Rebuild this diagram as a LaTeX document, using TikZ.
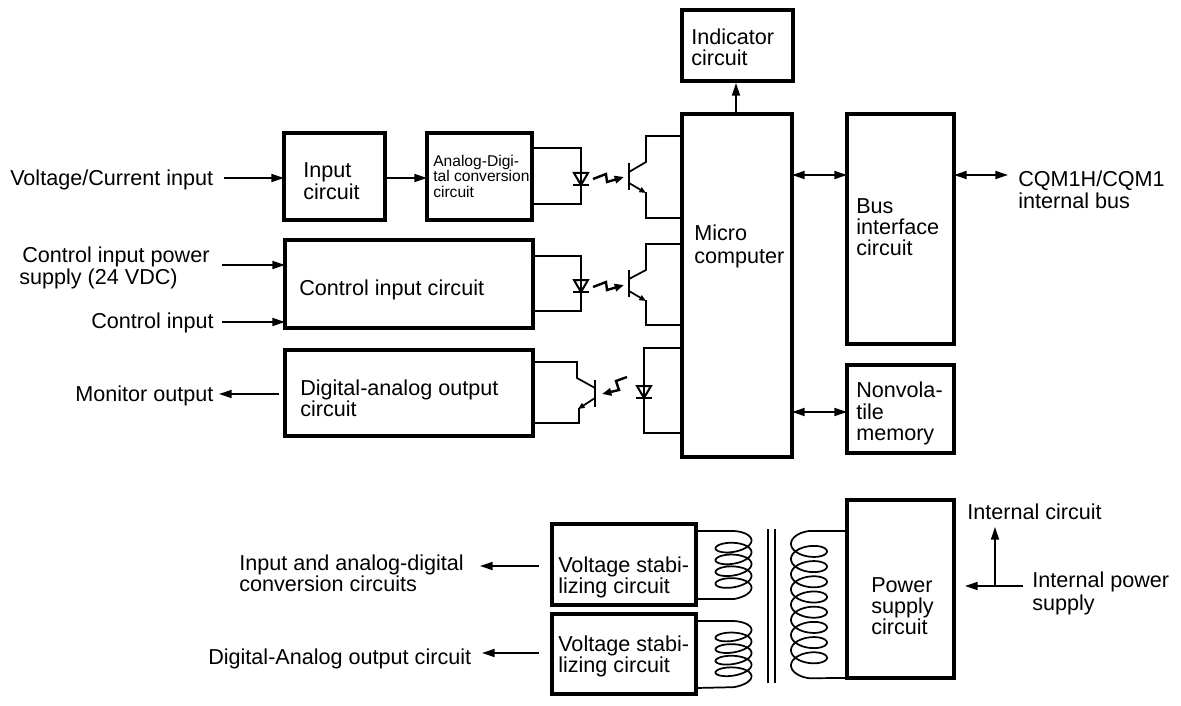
\documentclass[tikz,border=0pt]{standalone}
\usepackage{fontspec}
\setmainfont{Liberation Sans}
\usetikzlibrary{arrows.meta}
\tikzset{
  x=0.75pt,y=-0.75pt,
  blockbox/.style={draw,line width=2.5pt},
  wire/.style={line width=1.3pt,line join=miter},
  conn/.style={line width=1.3pt,-{Triangle[length=9.5pt,width=6pt]}},
  biconn/.style={line width=1.3pt,{Triangle[length=9.5pt,width=6pt]}-{Triangle[length=9.5pt,width=6pt]}},
  lbl/.style={font=\fontsize{16.2}{17}\selectfont,inner sep=0pt,align=left,anchor=west,text height=11.5pt,text depth=3pt,yshift=-1.2pt},
  tiny/.style={font=\fontsize{11.7}{13}\selectfont,inner sep=0pt,align=left,anchor=west,text height=8.5pt,text depth=2.5pt,yshift=-0.7pt},
  coilline/.style={line width=1.3pt},
}
\newcommand{\bx}[5]{\draw[blockbox] (#2,#3) rectangle (#4,#5); \coordinate (#1) at (#2,#3);}
\newcommand{\ledd}[2]{% x, y of top bar
  \draw[line width=1.5pt] (#1-7,#2) -- (#1+7,#2) -- (#1,#2+12) -- cycle;
  \draw[line width=1.7pt] (#1-8,#2+12) -- (#1+8,#2+12);}
\tikzset{bolt/.style={line width=1.8pt,-{Triangle[length=7pt,width=5.5pt]}}}
\newcommand{\boltR}[2]{% start x,y
  \draw[bolt] (#1,#2) -- (#1+13,#2-5) -- (#1+14,#2+3) -- (#1+31,#2-2);}
\begin{document}
\begin{tikzpicture}
\useasboundingbox (0,0) rectangle (1181,706);
% blocks
\bx{ind}{682}{10}{793}{81}
\bx{mic}{682}{114}{792}{457}
\bx{bus}{847}{114}{954}{344}
\bx{nvm}{847}{365}{954}{453}
\bx{inp}{284}{133}{385}{220}
\bx{adc}{427}{133}{532}{220}
\bx{cic}{285}{240}{533}{328}
\bx{dac}{285}{350}{533}{436}
\bx{vs1}{552}{524}{696}{605}
\bx{vs2}{552}{614}{696}{694}
\bx{psc}{847}{500}{954}{678}
% block text
\node[lbl] (t1) at (691,37) {Indicator};
\node[lbl] (t2) at (691,58) {circuit};
\node[lbl] (t3) at (303,170) {Input};
\node[lbl] (t4) at (303,192) {circuit};
\node[tiny] (t5) at (433,162) {Analog-Digi-};
\node[tiny] (t6) at (433,177) {tal conversion};
\node[tiny] (t7) at (433,193) {circuit};
\node[lbl] (t8) at (299,288) {Control input circuit};
\node[lbl] (t9) at (300,388) {Digital-analog output};
\node[lbl] (t10) at (300,409) {circuit};
\node[lbl] (t11) at (694,233) {Micro};
\node[lbl] (t12) at (694,256) {computer};
\node[lbl] (t13) at (856,206) {Bus};
\node[lbl] (t14) at (856,227) {interface};
\node[lbl] (t15) at (856,248) {circuit};
\node[lbl] (t16) at (856,390) {Nonvola-};
\node[lbl] (t17) at (856,412) {tile};
\node[lbl] (t18) at (856,433) {memory};
\node[lbl] (t19) at (558,565) {Voltage stabi-};
\node[lbl] (t20) at (558,586) {lizing circuit};
\node[lbl] (t21) at (558,644) {Voltage stabi-};
\node[lbl] (t22) at (558,665) {lizing circuit};
\node[lbl] (t23) at (871,585) {Power};
\node[lbl] (t24) at (871,606) {supply};
\node[lbl] (t25) at (871,627) {circuit};
% outer labels
\node[lbl] (l1) at (10,178) {Voltage/Current input};
\node[lbl] (l2) at (22,255) {Control input power};
\node[lbl] (l3) at (19,277) {supply (24 VDC)};
\node[lbl] (l4) at (91,321) {Control input};
\node[lbl] (l5) at (75,394) {Monitor output};
\node[lbl] (l6) at (1018,179) {CQM1H/CQM1};
\node[lbl] (l7) at (1018,201) {internal bus};
\node[lbl] (l8) at (239,563) {Input and analog-digital};
\node[lbl] (l9) at (239,584) {conversion circuits};
\node[lbl] (l10) at (208,657) {Digital-Analog output circuit};
\node[lbl] (l11) at (967,512) {Internal circuit};
\node[lbl] (l12) at (1032,580) {Internal power};
\node[lbl] (l13) at (1032,603) {supply};
% connectors
\coordinate (a1) at (224,178); \coordinate (a2) at (284,178);
\draw[conn] (a1) -- (a2);
\coordinate (b1) at (385,178); \coordinate (b2) at (427,178);
\draw[conn] (b1) -- (b2);
\coordinate (c1) at (222,265); \coordinate (c2) at (285,265);
\draw[conn] (c1) -- (c2);
\coordinate (d1) at (222,322); \coordinate (d2) at (285,322);
\draw[conn] (d1) -- (d2);
\coordinate (e1) at (279,394); \coordinate (e2) at (219,394);
\draw[conn] (e1) -- (e2);
\coordinate (f1) at (736,114); \coordinate (f2) at (736,83);
\draw[conn] (f1) -- (f2);
\coordinate (g1) at (792,175); \coordinate (g2) at (847,175);
\draw[biconn] (g1) -- (g2);
\coordinate (h1) at (954,175); \coordinate (h2) at (1008,175);
\draw[biconn] (h1) -- (h2);
\coordinate (i1) at (792,412); \coordinate (i2) at (847,412);
\draw[biconn] (i1) -- (i2);
\coordinate (j1) at (539,566); \coordinate (j2) at (480,566);
\draw[conn] (j1) -- (j2);
\coordinate (k1) at (539,653); \coordinate (k2) at (482,653);
\draw[conn] (k1) -- (k2);
\coordinate (m1) at (1023,586); \coordinate (m2) at (965,586); \coordinate (m3) at (995,586); \coordinate (m4) at (995,527);
\draw[conn] (m1) -- (m2);
\draw[conn] (m3) -- (m4);
% opto 1
\draw[wire] (532,148) -- (581,148) -- (581,204) -- (532,204);
\ledd{581}{173}
\boltR{593}{179}
\draw[wire] (682,136) -- (646,136) -- (646,162) -- (629,172);
\draw[wire] (682,218) -- (646,218) -- (646,192);
\draw[wire,-{Triangle[length=5pt,width=4pt]}] (629,183) -- (646,193);
\draw[line width=1.7pt] (629,163) -- (629,190);
% opto 2
\draw[wire] (533,256) -- (581,256) -- (581,311) -- (533,311);
\ledd{581}{280}
\boltR{593}{287}
\draw[wire] (682,244) -- (646,244) -- (646,270) -- (629,279);
\draw[wire] (682,325) -- (646,325) -- (646,300);
\draw[wire,-{Triangle[length=5pt,width=4pt]}] (629,291) -- (646,301);
\draw[line width=1.7pt] (629,270) -- (629,297);
% opto 3
\draw[wire] (533,362) -- (577,362) -- (577,378) -- (595,388);
\draw[wire] (533,423) -- (579,423) -- (579,408);
\draw[wire,-{Triangle[length=5pt,width=4pt]}] (595,398) -- (578,409);
\draw[line width=1.7pt] (595,380) -- (595,407);
\draw[bolt] (627,377) -- (616,381) -- (619,390) -- (602,394);
\draw[wire] (682,348) -- (644,348) -- (644,433) -- (682,433);
\ledd{644}{386}
% coils
\draw[coilline] (696,531) -- (733.5,531) -- plot[smooth,domain=0:1620,samples=200] ({733.5+18*sin(\x)},{538.5+\x/360*11.8-7.5*cos(\x)-sin(\x)}) -- (696,599);
\draw[coilline] (696,621) -- (733.5,621) -- plot[smooth,domain=0:1620,samples=200] ({733.5+18*sin(\x)},{628+\x/360*11.6-7*cos(\x)-sin(\x)}) -- (696,688);
\draw[line width=1.3pt] (768,529) -- (768,683);
\draw[line width=1.3pt] (775,529) -- (775,683);
\draw[coilline] (847,531) -- (809,531) -- plot[smooth,domain=0:3060,samples=380] ({809-18*sin(\x)},{540+\x/360*15.2-9*cos(\x)}) -- (847,678);
\end{tikzpicture}
\end{document}
